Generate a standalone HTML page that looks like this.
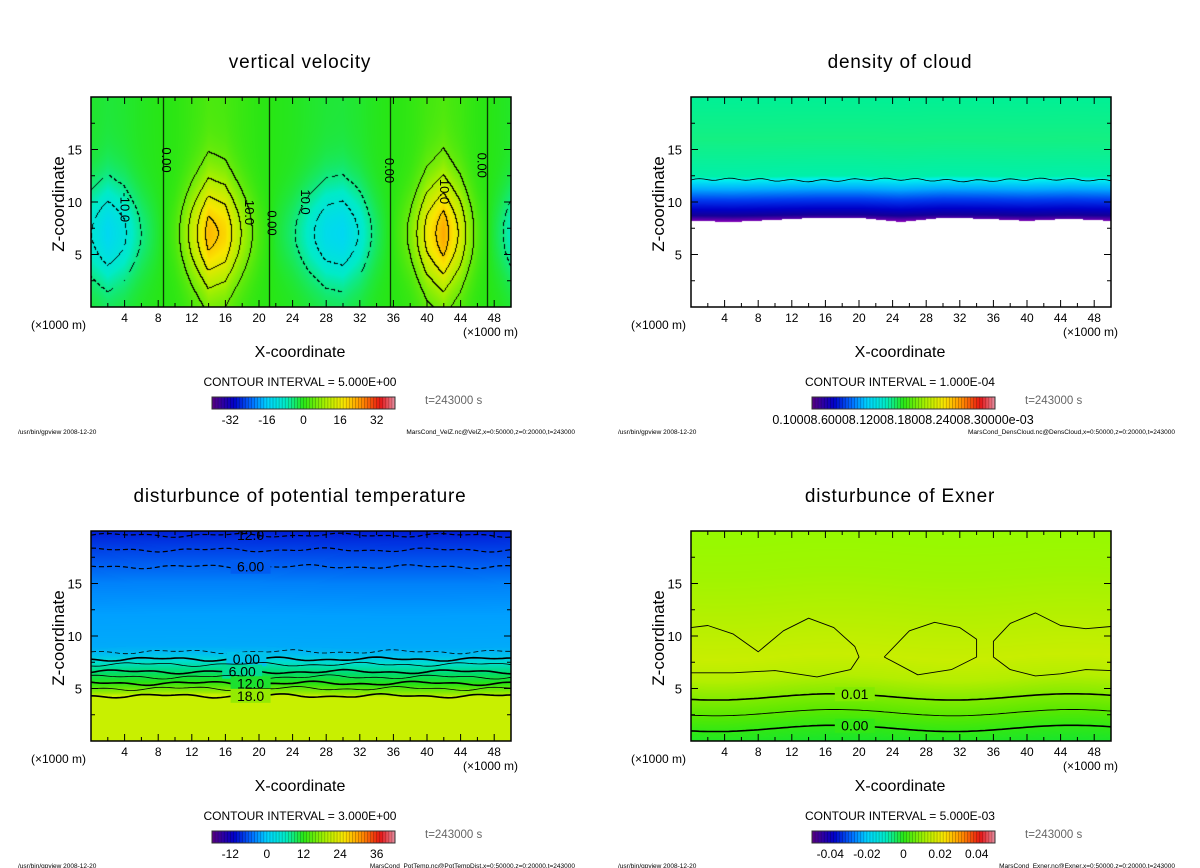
<!DOCTYPE html>
<html><head><meta charset="utf-8">
<style>
html,body{margin:0;padding:0;background:#fff;}
body{width:1200px;height:868px;position:relative;overflow:hidden;font-family:"Liberation Sans",sans-serif;}
canvas{position:absolute;}
svg{position:absolute;left:0;top:0;}
</style></head>
<body>
<canvas id="c0" width="420" height="210" style="left:91px;top:97px"></canvas>
<canvas id="c1" width="420" height="210" style="left:691px;top:97px"></canvas>
<canvas id="c2" width="420" height="210" style="left:91px;top:531px"></canvas>
<canvas id="c3" width="420" height="210" style="left:691px;top:531px"></canvas>
<svg id="ov" width="1200" height="868"></svg>
<script>
// ---- data ----
const velX = [0,2,4,6,8,10,12,14,16,18,20,22,24,26,28,30,32,34,36,38,40,42,44,46,48,50];
const velAmp = [-12,-16,-13,-7,-2,4,14,22,20,12,4,-2,-6,-11,-15,-16,-12,-5,1,8,18,23,16,5,-3,-10];
const cloudBaseX = [0,5,10,15,20,25,30,35,40,45,50];
const cloudBaseZ = [8.2,8.1,8.3,8.5,8.5,8.1,8.5,8.4,8.2,8.4,8.2];
const ptLevels = [19.6,18.2,16.6,8.5,7.8,7.3,6.6,6.1,5.5,5.0,4.3];
const ptStyles = ['d','d','d','t','k','n','k','n','k','n','k'];
const ptLabels = ['12.0','','6.00','','0.00','','6.00','','12.0','','18.0'];
const exLevels = [4.2,2.7,1.2];
const exLabels = ['0.01','','0.00'];
const exLoop1X=[0,2,5,8,11,14,17,19.5,20,19,15,10,5,0];
const exLoop1Z=[10.8,11,10.2,8.5,10.5,11.7,10.8,9,8,6.8,6.1,6.7,6.5,6.5];
const exLoop2X=[23,26,29,32,34,34,31,27,23];
const exLoop2Z=[8,10.5,11.3,10.8,9.7,8,6.8,6.3,8];
const exLoop3X=[50,47,44,41,38,36,36,38,41,44,47,50];
const exLoop3Z=[10.9,10.7,11,12.2,11.2,9.5,8,6.8,6.2,6.4,6.8,6.7];
const xTicks=[4,8,12,16,20,24,28,32,36,40,44,48];
const yTicks=[5,10,15];
const cbLabels=[['-32','-16','0','16','32'],['0.10008.60008.12008.18008.24008.30000e-03'],['-12','0','12','24','36'],['-0.04','-0.02','0','0.02','0.04']];
const cbValues=[[-32,-16,0,16,32],[null],[-12,0,12,24,36],[-0.04,-0.02,0,0.02,0.04]];
const cbRange=[[-40,40],[0,1],[-18,42],[-0.05,0.05]];
const titles=['vertical velocity','density of cloud','disturbunce of potential temperature','disturbunce of Exner'];
const intervals=['CONTOUR INTERVAL = 5.000E+00','CONTOUR INTERVAL = 1.000E-04','CONTOUR INTERVAL = 3.000E+00','CONTOUR INTERVAL = 5.000E-03'];
const footers=['MarsCond_VelZ.nc@VelZ,x=0:50000,z=0:20000,t=243000','MarsCond_DensCloud.nc@DensCloud,x=0:50000,z=0:20000,t=243000','MarsCond_PotTemp.nc@PotTempDist,x=0:50000,z=0:20000,t=243000','MarsCond_Exner.nc@Exner,x=0:50000,z=0:20000,t=243000'];

const W=420,H=210;
const origins=[[91,97],[691,97],[91,531],[691,531]];
const sx=x=>x/50*W, sz=z=>H-z/20*H;
function interp(xs,ys,x){for(let i=0;i<xs.length-1;i++){if(x<=xs[i+1]){const t=(x-xs[i])/(xs[i+1]-xs[i]);return ys[i]+t*(ys[i+1]-ys[i]);}}return ys[ys.length-1];}
const stops=[[0,[90,0,130]],[0.12,[0,0,200]],[0.22,[0,110,255]],[0.3,[0,210,255]],[0.4,[0,235,200]],[0.5,[40,230,20]],[0.62,[170,240,0]],[0.72,[250,230,0]],[0.82,[255,140,0]],[0.92,[230,20,20]],[1,[230,140,160]]];
function cmap(t){t=Math.max(0,Math.min(1,t));for(let i=0;i<stops.length-1;i++){if(t<=stops[i+1][0]){const a=stops[i],b=stops[i+1],f=(t-a[0])/(b[0]-a[0]);return a[1].map((v,k)=>Math.round(v+f*(b[1][k]-v)));}}return stops[stops.length-1][1];}
function zcol(zs,cs,z){for(let i=0;i<zs.length-1;i++){if(z<=zs[i+1]){const f=(z-zs[i])/(zs[i+1]-zs[i]);return cs[i].map((v,k)=>Math.round(v+f*(cs[i+1][k]-v)));}}return cs[cs.length-1];}
function paint(id,fn){const c=document.getElementById(id).getContext('2d');const im=c.createImageData(W,H);for(let py=0;py<H;py++)for(let px=0;px<W;px++){const x=(px+.5)/W*50,z=(H-py-.5)/H*20;const col=fn(x,z,px,py);const o=(py*W+px)*4;im.data[o]=col[0];im.data[o+1]=col[1];im.data[o+2]=col[2];im.data[o+3]=255;}c.putImageData(im,0,0);}

function wf(x,z){const a=interp(velX,velAmp,x);const s=Math.abs(a)/23;return a*(0.12+0.88*Math.exp(-Math.pow((z-7)/(3.5+2*s),2)))*(0.6+0.4*s);}
const wg=[];for(let py=0;py<=H;py++){wg.push([]);for(let px=0;px<=W;px++)wg[py].push(wf((px+.5)/W*50,(H-py-.5)/H*20));}
paint('c0',(x,z,px,py)=>{const v=wg[py][px];const lv=Math.floor(v/5),lr=Math.floor(wg[py][px+1]/5),lb=Math.floor(wg[py+1][px]/5);
 if(lv!==lr||lv!==lb){const lev=Math.max(lv,lr,lb)*5;const dash=lev<0&&((px+py)%8>4);if(!dash){return [0,0,0];}}
 return cmap((v+40)/80);});
const cdZ=[8.2,8.7,9.3,10.2,11.2,12.1,12.4,16,20];
const cdC=[[120,0,180],[20,0,150],[0,0,200],[0,60,240],[0,170,255],[0,240,240],[0,240,170],[20,240,130],[0,240,150]];
paint('c1',(x,z)=>{const b=interp(cloudBaseX,cloudBaseZ,x);if(z<b)return[255,255,255];return zcol(cdZ,cdC,z+(8.2-b)*0.3);});
const ptZ=[0,4.3,4.5,5.5,6.5,7.5,8.2,9,12,15,17,19,20];
const ptC=[[200,240,0],[200,240,0],[160,235,0],[40,225,20],[0,220,110],[0,220,210],[0,190,240],[0,170,250],[0,160,255],[0,130,250],[0,90,240],[0,50,225],[0,30,215]];
paint('c2',(x,z)=>zcol(ptZ,ptC,z-0.12*Math.sin(x/8)));
const exZ=[0,1.2,2.7,4.2,6,8,12,16,20];
const exC=[[30,230,40],[50,232,20],[90,232,0],[130,235,0],[180,238,0],[200,238,0],[180,240,0],[160,245,0],[150,250,0]];
paint('c3',(x,z)=>zcol(exZ,exC,z-0.3*Math.sin((x-10)/4.5)));

const svg=document.getElementById('ov');const NS='http://www.w3.org/2000/svg';
function el(tag,attrs,parent,text){const e=document.createElementNS(NS,tag);for(const k in attrs)e.setAttribute(k,attrs[k]);if(text!==undefined)e.textContent=text;(parent||svg).appendChild(e);return e;}
function gapLabel(g,x,z,s,col,nogap){if(!nogap)el('rect',{x:sx(x)-20,y:sz(z)-7,width:40,height:14,fill:`rgb(${col})`},g);const t=el('text',{x:sx(x),y:sz(z)+5,'font-size':14,'text-anchor':'middle'},g,s);}
for(let p=0;p<4;p++){
 const [ox,oy]=origins[p];const cx=ox+209;
 const g=el('g',{transform:`translate(${ox},${oy})`});
 
 
 if(p===2){ptLevels.forEach((lv,i)=>{let d='';for(let x=0;x<=50;x+=0.5){const z=lv+0.12*Math.sin(x/2.1+i)+0.08*Math.sin(x/0.9+i*2);d+=(x?'L':'M')+sx(x).toFixed(1)+','+sz(z).toFixed(1);}
  const st=ptStyles[i];const ln=el('path',{d:d,fill:'none',stroke:'#000','stroke-width':st==='k'?1.6:(st==='d'?1.2:0.8),'stroke-dasharray':(st==='d'||st==='t')?'5,3':'none'},g);
  
  if(ptLabels[i])gapLabel(g,i===4?18.5:(i===6?18:19),lv,ptLabels[i],zcol(ptZ,ptC,lv+0.3),i===0);});}
 if(p===3){exLevels.forEach((lv,i)=>{let d='';for(let x=0;x<=50;x+=0.5){const z=lv+0.3*Math.sin((x-10)/4.5);d+=(x?'L':'M')+sx(x).toFixed(1)+','+sz(z).toFixed(1);}
  const ln=el('path',{d:d,fill:'none',stroke:'#000','stroke-width':i===1?0.9:1.6},g);
  if(exLabels[i])gapLabel(g,19.5,lv+0.3*Math.sin(9.5/4.5),exLabels[i],zcol(exZ,exC,lv));});
  [[exLoop1X,exLoop1Z],[exLoop2X,exLoop2Z],[exLoop3X,exLoop3Z]].forEach(([xs,zs])=>{const d=xs.map((x,k)=>(k?'L':'M')+sx(x).toFixed(1)+','+sz(zs[k]).toFixed(1)).join('');const ln=el('path',{d:d,fill:'none',stroke:'#000','stroke-width':0.9,'stroke-linejoin':'round'},g);});}
 if(p===1){let d='';for(let x=0;x<=50;x+=0.5){const z=12.1+0.1*Math.sin(x*1.7)+0.08*Math.sin(x/3);d+=(x?'L':'M')+sx(x).toFixed(1)+','+sz(z).toFixed(1);}const ln=el('path',{d:d,fill:'none',stroke:'#000','stroke-width':0.8},g);}
 if(p===0){[[8.9,'0.00',14],[21.5,'0.00',8],[35.5,'0.00',13],[46.5,'0.00',13.5],[18.8,'10.0',9],[25.5,'10.0',10],[4,'-10.0',9.5],[42,'10.0',11]].forEach(([x,s,z])=>{const t=el('text',{x:0,y:4,'font-size':13,'text-anchor':'middle',transform:`translate(${sx(x)},${sz(z)}) rotate(90)`},g,s);});}
 const fr=el('rect',{x:0,y:0,width:W,height:H,fill:'none',stroke:'#000','stroke-width':1.5},g);
 for(let x=2;x<50;x+=2){const L=(x%4===0)?7:4;el('line',{x1:sx(x),x2:sx(x),y1:H,y2:H-L,stroke:'#000'},g);el('line',{x1:sx(x),x2:sx(x),y1:0,y2:L,stroke:'#000'},g);}
 for(let z=2.5;z<20;z+=2.5){const L=(z%5===0)?7:4;el('line',{x1:0,x2:L,y1:sz(z),y2:sz(z),stroke:'#000'},g);el('line',{x1:W,x2:W-L,y1:sz(z),y2:sz(z),stroke:'#000'},g);}
 xTicks.forEach(v=>{const t=el('text',{x:sx(v),y:H+15,'font-size':12,'text-anchor':'middle'},g,String(v));});
 yTicks.forEach(v=>{const t=el('text',{x:-9,y:sz(v)+5,'font-size':13,'text-anchor':'end'},g,String(v));});
 let t=el('text',{x:-60,y:H+22,'font-size':12},g,'(×1000 m)');
 t=el('text',{x:W+7,y:H+29,'font-size':12,'text-anchor':'end'},g,'(×1000 m)');
 t=el('text',{x:0,y:0,'font-size':17,'text-anchor':'middle',transform:`translate(-27,${H/2+2}) rotate(-90)`},g,'Z-coordinate');
 t=el('text',{x:209,y:H+50,'font-size':16,'text-anchor':'middle'},g,'X-coordinate');
 t=el('text',{x:cx,y:oy-29,'font-size':19,'text-anchor':'middle','letter-spacing':'0.8'},svg,titles[p]);
 t=el('text',{x:cx,y:oy+289,'font-size':12,'text-anchor':'middle'},svg,intervals[p]);
 const cb=el('g',{transform:`translate(${ox+121},${oy+300})`});
 const n=60,cw=183/n;for(let i=0;i<n;i++){const c=cmap((i+.5)/n);el('rect',{x:i*cw,y:0,width:cw+0.3,height:12,fill:`rgb(${c})`},cb);el('line',{x1:i*cw,x2:i*cw,y1:0,y2:12,stroke:'rgba(0,0,0,0.35)','stroke-width':0.6},cb);}
 el('rect',{x:0,y:0,width:183,height:12,fill:'none',stroke:'#333','stroke-width':1},cb);
 const [r0,r1]=cbRange[p];
 cbLabels[p].forEach((s,k)=>{const v=cbValues[p][k];const x=v===null?91:(v-r0)/(r1-r0)*183;const tt=el('text',{x:x,y:27,'font-size':v===null?12.5:12,'text-anchor':'middle'},cb,s);});
 t=el('text',{x:ox+334,y:oy+307,'font-size':11.5,fill:'#666'},svg,'t=243000 s');
 t=el('text',{x:ox-73,y:oy+337,'font-size':6.5},svg,'/usr/bin/gpview   2008-12-20');
 t=el('text',{x:ox+484,y:oy+337,'font-size':6.5,'text-anchor':'end'},svg,footers[p]);
}
</script>
</body></html>
